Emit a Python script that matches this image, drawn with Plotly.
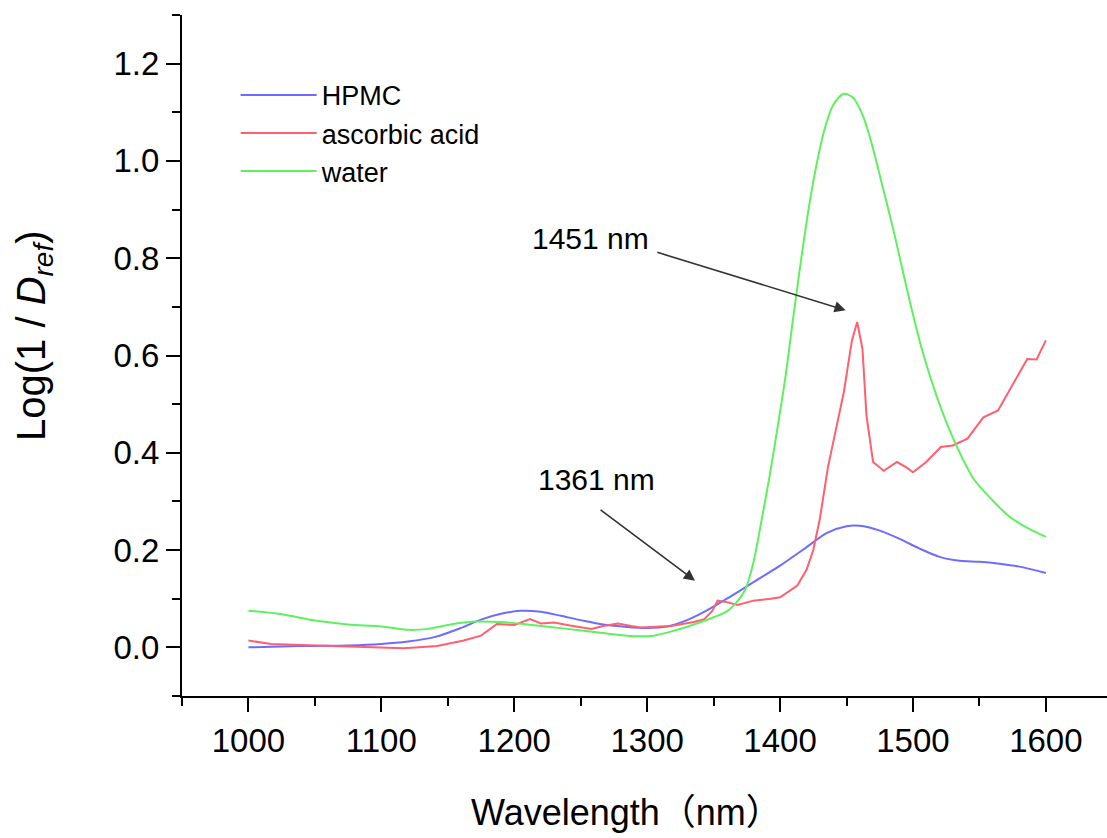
import plotly.graph_objects as go

# ---------------- data ----------------
hpmc_x = [1000, 1025, 1050, 1075, 1100, 1120, 1140, 1160, 1175, 1190, 1205, 1220, 1235, 1250,
          1267, 1285, 1300, 1315, 1330, 1345, 1360, 1380, 1400, 1420, 1435, 1450, 1460, 1475,
          1490, 1505, 1520, 1535, 1550, 1565, 1580, 1600]
hpmc_y = [0.000, 0.002, 0.003, 0.004, 0.007, 0.012, 0.021, 0.040, 0.057, 0.069, 0.075, 0.073,
          0.065, 0.056, 0.047, 0.042, 0.040, 0.043, 0.056, 0.076, 0.100, 0.134, 0.168, 0.206,
          0.235, 0.249, 0.250, 0.240, 0.223, 0.203, 0.186, 0.178, 0.176, 0.172, 0.166, 0.153]

acid_x = [1000, 1017, 1040, 1067, 1092, 1117, 1142, 1162, 1175, 1187, 1200, 1212, 1220, 1230,
          1242, 1250, 1258, 1267, 1278, 1288, 1295, 1318, 1335, 1343, 1349, 1353, 1360, 1368,
          1380, 1393, 1400, 1413, 1420, 1425, 1430, 1436, 1442, 1448, 1454, 1458, 1462, 1465,
          1470, 1478, 1488, 1495, 1500, 1510, 1521, 1530, 1541, 1553, 1564, 1576, 1586, 1593, 1600]
acid_y = [0.014, 0.007, 0.005, 0.003, 0.000, -0.002, 0.003, 0.014, 0.024, 0.048, 0.046, 0.058,
          0.049, 0.051, 0.045, 0.041, 0.038, 0.044, 0.049, 0.044, 0.041, 0.044, 0.052, 0.058,
          0.075, 0.096, 0.093, 0.087, 0.096, 0.100, 0.103, 0.127, 0.160, 0.200, 0.265, 0.370,
          0.450, 0.525, 0.630, 0.669, 0.614, 0.477, 0.381, 0.363, 0.381, 0.370, 0.360, 0.381,
          0.412, 0.415, 0.429, 0.473, 0.487, 0.545, 0.593, 0.592, 0.631]

water_x = [1000, 1025, 1050, 1075, 1100, 1120, 1135, 1150, 1170, 1190, 1210, 1240, 1265, 1290,
           1305, 1320, 1335, 1350, 1360, 1368, 1374, 1380, 1386, 1392, 1398, 1404, 1410, 1416,
           1422, 1428, 1434, 1440, 1448, 1455, 1462, 1469, 1476, 1486, 1496, 1506, 1518, 1531,
           1546, 1560, 1572, 1585, 1600]
water_y = [0.075, 0.068, 0.055, 0.047, 0.043, 0.036, 0.038, 0.046, 0.053, 0.052, 0.047, 0.038,
           0.030, 0.023, 0.024, 0.034, 0.047, 0.062, 0.074, 0.095, 0.120, 0.175, 0.260, 0.350,
           0.450, 0.555, 0.680, 0.800, 0.910, 1.000, 1.070, 1.115, 1.138, 1.130, 1.095, 1.035,
           0.960, 0.850, 0.730, 0.620, 0.515, 0.425, 0.345, 0.302, 0.270, 0.247, 0.227]

series_names = ["HPMC", "ascorbic acid", "water"]
series_colors = ["#6e6cff", "#ff5f6e", "#5ff05f"]

x_ticks = [1000, 1100, 1200, 1300, 1400, 1500, 1600]
y_ticks = [0.0, 0.2, 0.4, 0.6, 0.8, 1.0, 1.2]

FONT = "Liberation Sans, Arial, sans-serif"
TITLE_FONT = "Liberation Sans, Noto Sans CJK JP, sans-serif"

fig = go.Figure()
fig.add_trace(go.Scatter(x=hpmc_x, y=hpmc_y, mode="lines", name=series_names[0],
                         line=dict(color=series_colors[0], width=2, shape="spline", smoothing=0.8)))
fig.add_trace(go.Scatter(x=acid_x, y=acid_y, mode="lines", name=series_names[1],
                         line=dict(color=series_colors[1], width=2)))
fig.add_trace(go.Scatter(x=water_x, y=water_y, mode="lines", name=series_names[2],
                         line=dict(color=series_colors[2], width=2, shape="spline", smoothing=0.8)))

axis_common = dict(showgrid=False, zeroline=False, showline=True, linecolor="black", linewidth=2,
                   ticks="outside", ticklen=14, tickwidth=2, tickcolor="black",
                   tickfont=dict(family=FONT, size=33, color="black"))

fig.update_xaxes(range=[950, 1646], tickvals=x_ticks, **axis_common,
                 minor=dict(dtick=50, tick0=950, ticks="outside", ticklen=8, tickwidth=2, tickcolor="black"))
fig.update_yaxes(range=[-0.1, 1.3], tickvals=y_ticks, tickformat=".1f", **axis_common,
                 minor=dict(dtick=0.1, tick0=-0.1, ticks="outside", ticklen=8, tickwidth=2, tickcolor="black"))

annotations = [
    dict(text="Wavelength（nm）", xref="paper", yref="paper", x=(626 - 182) / 925, y=-(812 - 696) / 681,
         xanchor="center", yanchor="middle", showarrow=False, font=dict(family=TITLE_FONT, size=36, color="black")),
    dict(text="Log(1 / <i>D</i><sub><i>ref</i></sub>)", xref="paper", yref="paper",
         x=-(182 - 34) / 925, y=(696 - 336) / 681, xanchor="center", yanchor="middle", textangle=-90,
         showarrow=False, font=dict(family=FONT, size=40, color="black")),
    dict(text="1451 nm", x=1257, y=0.84, xref="x", yref="y", showarrow=False,
         font=dict(family=FONT, size=30, color="black")),
    dict(text="1361 nm", x=1262, y=0.345, xref="x", yref="y", showarrow=False,
         font=dict(family=FONT, size=30, color="black")),
    dict(text="", x=1449.4, y=0.693, ax=1306.5, ay=0.813, xref="x", yref="y", axref="x", ayref="y",
         showarrow=True, arrowhead=2, arrowsize=1.4, arrowwidth=1.6, arrowcolor="#333333", standoff=0),
    dict(text="", x=1336, y=0.137, ax=1263.8, ay=0.285, xref="x", yref="y", axref="x", ayref="y",
         showarrow=True, arrowhead=2, arrowsize=1.4, arrowwidth=1.6, arrowcolor="#333333", standoff=0),
]

fig.update_layout(
    width=1107, height=838,
    margin=dict(l=182, r=0, t=15, b=142),
    plot_bgcolor="white", paper_bgcolor="white",
    showlegend=True,
    legend=dict(x=0.058, y=0.918, xanchor="left", yanchor="top", bgcolor="rgba(0,0,0,0)",
                font=dict(family=FONT, size=27, color="black"), itemwidth=76, tracegroupgap=0),
    annotations=annotations,
)

fig.write_html("out.html")
